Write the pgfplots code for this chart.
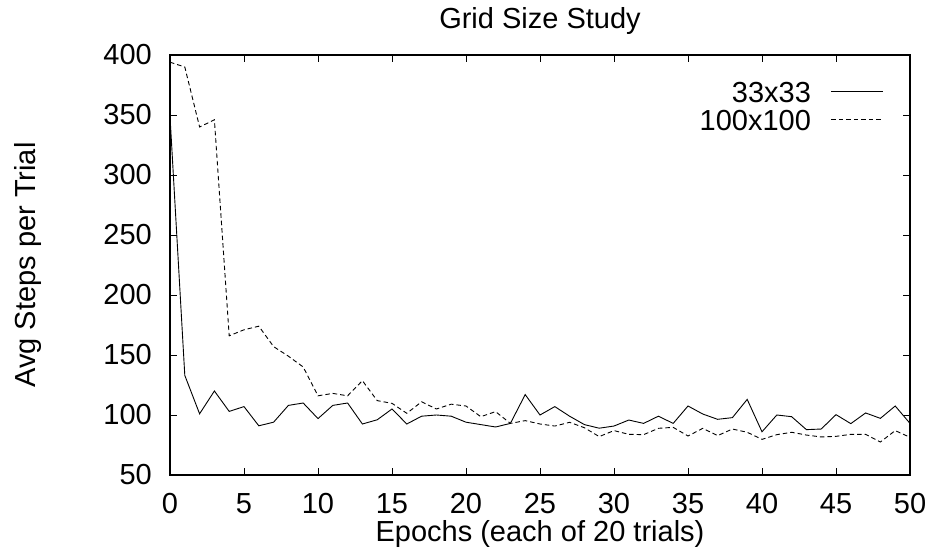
\documentclass[border=0pt]{standalone}
\usepackage{pgfplots}
\pgfplotsset{compat=1.18}
\usepackage{fontspec}
\setmainfont{Liberation Sans}
\pgfplotstableread{
x y
0 349
1 133
2 101
3 120
4 103
5 107
6 91
7 94
8 108
9 110
10 97
11 108
12 110
13 92.5
14 96
15 105
16 92.5
17 99
18 100
19 99
20 94
21 92
22 90
23 93
24 117
25 100
26 107
27 99
28 92
29 89
30 90.8
31 95.8
32 93
33 99
34 93
35 107.5
36 100.8
37 96.4
38 97.8
39 113
40 86
41 100
42 98.6
43 87.8
44 88.3
45 100.3
46 92.8
47 101.7
48 97.2
49 107.5
50 93
}\smallgrid
\pgfplotstableread{
x y
0 394
1 390
2 340
3 346
4 166
5 171
6 174
7 157
8 149
9 140
10 116
11 118
12 116
13 128.6
14 112
15 109.7
16 101.4
17 111
18 105
19 109
20 107.5
21 98.6
22 102.8
23 93
24 95.3
25 92.5
26 90.8
27 93.9
28 89.4
29 82
30 87
31 83.9
32 83.6
33 88.9
34 89.7
35 82.5
36 88.9
37 82.8
38 88.3
39 85.6
40 79.7
41 83.6
42 85.6
43 83.3
44 81.7
45 82.2
46 83.9
47 83.9
48 77.5
49 87
50 81.4
}\largegrid
\begin{document}
\begin{tikzpicture}[font=\fontsize{29}{34}\selectfont]
\begin{axis}[
  scale only axis, width=740pt, height=420pt,
  xmin=0, xmax=50, ymin=50, ymax=400,
  xtick={0,5,...,50}, ytick={50,100,...,400},
  tick align=inside, major tick length=7pt,
  axis line style={line width=1.3pt},
  tick style={line width=0.8pt, black},
  /pgf/number format/assume math mode=true,
  title={Grid Size Study},
  title style={at={(axis description cs:0.5,1)}, anchor=base, yshift=20pt, inner sep=0pt},
  xlabel={Epochs (each of 20 trials)},
  xlabel style={at={(axis description cs:0.5,0)}, anchor=base, yshift=-67pt, inner sep=0pt},
  ylabel={Avg Steps per Trial},
  ylabel style={at={(axis description cs:-0.1824,0.5)}, anchor=base, inner sep=0pt},
  xticklabel style={anchor=base, yshift=-39pt, inner sep=0pt},
  yticklabel style={anchor=east, xshift=-18pt, inner sep=0pt},
  legend cell align=right,
  legend plot pos=right,
  legend style={at={(axis description cs:0.9649,0.938)}, anchor=north east, draw=none, fill=none, inner sep=0pt, row sep=7.5pt, column sep=20pt, nodes={inner sep=0pt, text height=20.8pt, text depth=0pt}},
  legend image code/.code={\draw[#1] (0pt,0pt) -- (52pt,0pt);},
]
\addplot[black, line width=0.9pt] table[x=x,y=y] {\smallgrid};
\addlegendentry{33x33}
\addplot[black, line width=0.9pt, dash pattern=on 4.5pt off 3pt] table[x=x,y=y] {\largegrid};
\addlegendentry{100x100}
\end{axis}
\pgfresetboundingbox
\path[use as bounding box] (-170pt,-78pt) rectangle (761pt,475pt);
\end{tikzpicture}
\end{document}
